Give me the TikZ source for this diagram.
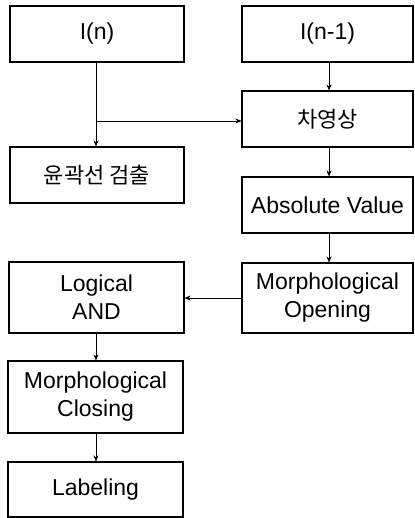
\documentclass[tikz,border=0pt]{standalone}
\usepackage{fontspec}
\setmainfont{Liberation Sans}
\newfontfamily\krfont{Noto Sans CJK KR}
\usetikzlibrary{arrows.meta}
\begin{document}
\begin{tikzpicture}[x=1pt,y=-1pt,
  blk/.style={draw=black,line width=1.1pt,rectangle,inner sep=0pt,align=center,
    font=\fontsize{23}{28}\selectfont},
  conn/.style={line width=0.9pt,-{Stealth[length=6pt,width=5pt]}}]
\useasboundingbox (0,0) rectangle (414,518);
\node[blk,minimum width=174,minimum height=56] (in) at (97,34) {I(n)};
\node[blk,minimum width=171,minimum height=56] (in1) at (327.5,34) {I(n-1)};
\node[blk,minimum width=171,minimum height=56] (diff) at (327.5,119) {\krfont\fontsize{22}{26}\selectfont 차영상};
\node[blk,minimum width=174,minimum height=56] (edge) at (97,175) {\krfont\fontsize{22}{26}\selectfont 윤곽선 검출};
\node[blk,minimum width=171,minimum height=56] (abs) at (327.5,205) {Absolute Value};
\node[blk,minimum width=175,minimum height=71] (and) at (96.5,297.5) {Logical\\AND};
\node[blk,minimum width=171,minimum height=70] (open) at (327.5,298) {Morphological\\Opening};
\node[blk,minimum width=175,minimum height=72] (close) at (95.5,397) {Morphological\\Closing};
\node[blk,minimum width=175,minimum height=55] (label) at (95.5,489.5) {Labeling};
\coordinate (br) at (96,121);
\draw[conn] (in.south -| br) -- (edge.north -| br);
\draw[conn] (br) -- (diff.west |- br);
\draw[conn] ([xshift=1.5pt]in1.south) -- ([xshift=1.5pt]diff.north);
\draw[conn] ([xshift=1.5pt]diff.south) -- ([xshift=1.5pt]abs.north);
\draw[conn] ([xshift=1.5pt]abs.south) -- ([xshift=1.5pt]open.north);
\draw[conn] (open.west) -- (and.east |- open.west);
\draw[conn] (and.south -| br) -- (close.north -| br);
\draw[conn] (close.south -| br) -- (label.north -| br);
\end{tikzpicture}
\end{document}
